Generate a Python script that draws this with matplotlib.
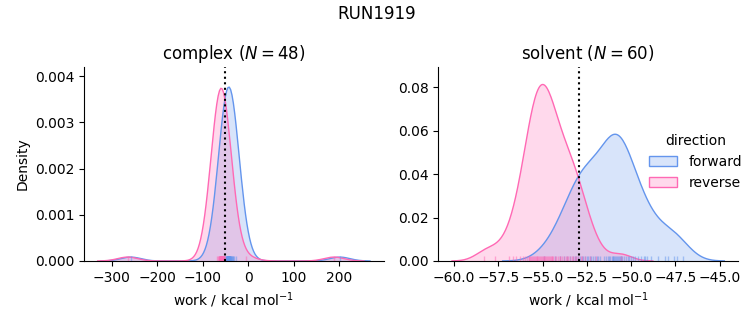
import numpy as np
import matplotlib
matplotlib.use("Agg")
import matplotlib.pyplot as plt
from matplotlib.patches import Patch
from matplotlib.colors import to_rgba

# ---------------- data ----------------
run_name = "RUN1919"
phases = ["complex", "solvent"]
directions = ["forward", "reverse"]
n_cycles = {"complex": 48, "solvent": 60}

complex_forward = [
    -258.0, -53.5, -51.2, -50.0, -49.1, -48.4, -47.8, -47.3, -46.9, -46.5, -46.1,
    -45.8, -45.5, -45.2, -44.9, -44.6, -44.3, -44.0, -43.7, -43.4, -43.1,
    -42.8, -42.5, -42.2, -41.9, -41.6, -41.2, -40.8, -40.4, -40.0, -39.5,
    -39.0, -38.4, -37.7, -36.9, -36.0, -34.8, -33.0, -30.5, -28.0,
    -45.9, -45.0, -44.5, -43.9, -43.2, -42.6, -47.0, 201.0,
]
complex_reverse = [
    -265.0, -68.0, -66.0, -65.0, -64.3, -63.7, -63.2, -62.8, -62.4, -62.0, -61.7,
    -61.4, -61.1, -60.8, -60.5, -60.2, -59.9, -59.6, -59.3, -59.0, -58.7,
    -58.4, -58.1, -57.8, -57.5, -57.1, -56.7, -56.3, -55.8, -55.2, -54.5,
    -53.7, -52.7, -51.5, -61.5, -60.6, -59.7, -58.9, -60.0, -61.0, -59.4,
    -58.6, -62.2, -57.3, -63.0, -56.0, -5.0, 188.0,
]
solvent_forward = [
    -54.9, -54.3, -54.0, -53.8,
    -53.6, -53.45, -53.3,
    -53.2, -53.1, -53.0, -52.9, -52.8,
    -52.7, -52.6, -52.5, -52.45, -52.35, -52.25,
    -52.15, -52.05, -51.95, -51.85, -51.75,
    -50.85, -51.55, -49.2, -51.4, -51.3, -51.25,
    -51.2, -51.1, -51.05, -51.0, -50.95, -50.9, -50.8, -50.75,
    -50.7, -50.65, -50.6, -50.55, -50.5, -50.4, -50.3,
    -50.2, -50.1, -50.0, -49.9, -49.8,
    -49.6, -49.45, -49.3,
    -49.1, -48.9,
    -48.5, -48.1,
    -47.9, -47.6, -47.4, -47.1,
]
solvent_reverse = [
    -58.3, -57.7, -56.9, -56.7, -56.5, -56.3,
    -56.1, -56.0, -55.9, -55.8,
    -55.75, -55.7, -55.65, -55.6, -53.6, -55.55, -55.5, -55.45, -55.4, -55.35,
    -55.3, -55.25,
    -55.2, -55.15, -55.1, -55.05, -53.35, -55.0, -54.95, -54.9, -54.85, -54.8,
    -54.75,
    -54.7, -54.65, -54.6, -54.55, -54.5, -54.45, -54.4, -54.3, -54.25,
    -54.15, -54.05, -54.0, -53.9, -53.8,
    -53.7, -53.55, -53.45, -53.3,
    -53.15, -53.0, -52.85,
    -52.6, -52.35,
    -52.0, -52.8,
    -53.1, -50.6,
]
reference_dg = {"complex": -52.0, "solvent": -52.95}

works = {
    ("complex", "forward"): complex_forward,
    ("complex", "reverse"): complex_reverse,
    ("solvent", "forward"): solvent_forward,
    ("solvent", "reverse"): solvent_reverse,
}
colors = {"forward": "#6495ED", "reverse": "#FF69B4"}
total_count = sum(len(v) for v in works.values())


def kde_curve(values, gridsize=200, cut=3):
    x = np.asarray(values, dtype=float)
    n = len(x)
    bw = np.std(x, ddof=1) * n ** (-1 / 5)
    grid = np.linspace(x.min() - cut * bw, x.max() + cut * bw, gridsize)
    dens = np.exp(-0.5 * ((grid[:, None] - x[None, :]) / bw) ** 2).sum(axis=1)
    dens /= n * bw * np.sqrt(2 * np.pi)
    return grid, dens * n / total_count


fig, axes = plt.subplots(1, 2, figsize=(7.53, 3.25), dpi=100)
fig.subplots_adjust(left=0.1116, right=0.980, bottom=0.197, top=0.794, wspace=0.183)

for ax, phase in zip(axes, phases):
    for d in directions:
        vals = works[(phase, d)]
        g, dens = kde_curve(vals)
        c = colors[d]
        ax.fill_between(g, 0, dens, facecolor=to_rgba(c, 0.25), edgecolor="none")
        ax.plot(g, dens, color=c, lw=1)
    for d in directions:
        vals = works[(phase, d)]
        trans = ax.get_xaxis_transform()
        for v in vals:
            ax.plot([v, v], [0, 0.025], transform=trans, color=colors[d],
                    alpha=0.5, lw=1, solid_capstyle="butt")
    ax.axvline(reference_dg[phase], color="black", ls=":", lw=1.5)
    ax.set_title(f"{phase} ($N = {n_cycles[phase]}$)", fontsize=12)
    ax.set_xlabel("work / kcal mol$^{-1}$")
    ax.spines["top"].set_visible(False)
    ax.spines["right"].set_visible(False)

axes[0].set_ylabel("Density")
axes[0].set_ylim(0, 0.0042)
axes[1].set_ylim(0, 0.0893)

handles = [Patch(facecolor=to_rgba(colors[d], 0.25), edgecolor=colors[d], label=d)
           for d in directions]
axes[1].legend(handles=handles, title="direction", frameon=False,
               loc="center left", bbox_to_anchor=(0.663, 0.51))
fig.suptitle(run_name, fontsize=12, y=0.985)

fig.savefig("out.png", dpi=100)
